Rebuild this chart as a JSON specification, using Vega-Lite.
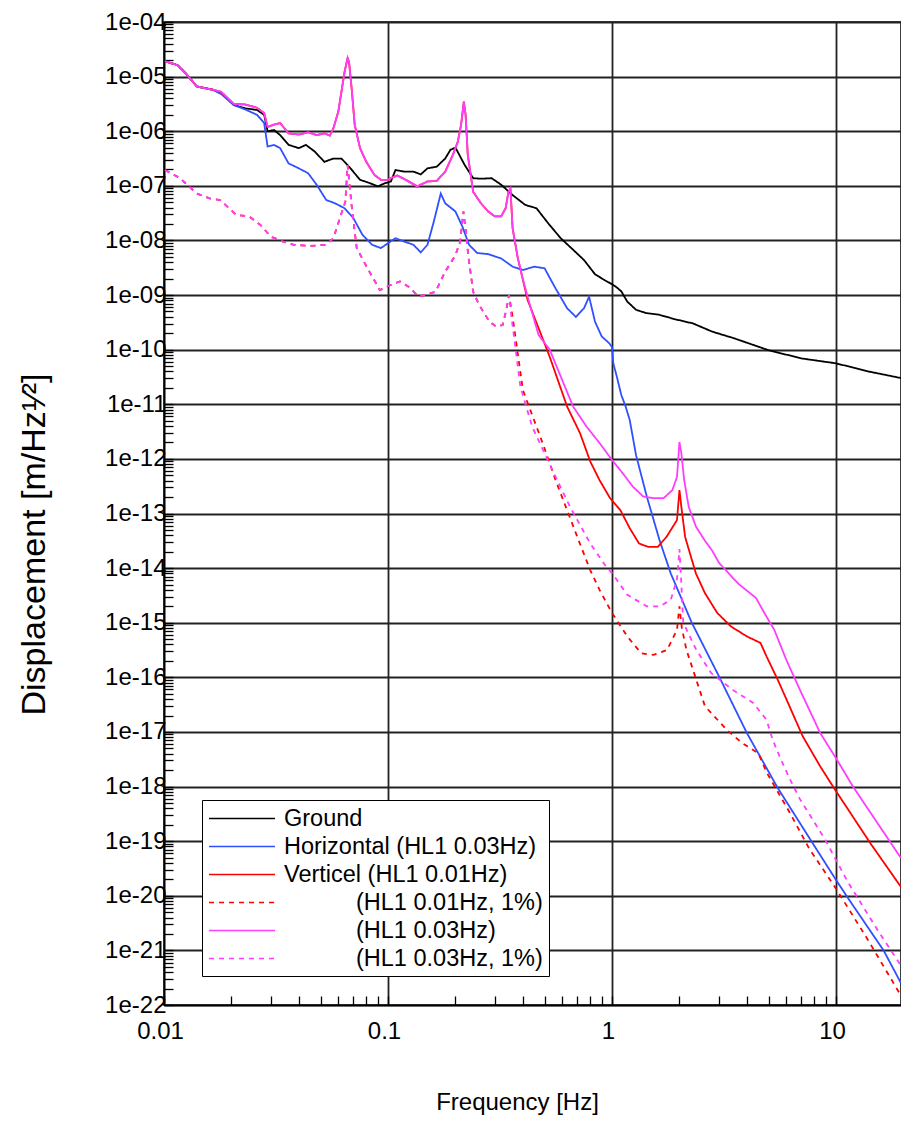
{
"$schema": "https://vega.github.io/schema/vega-lite/v6.json",
"width": 737, "height": 983,
"autosize": {"type": "none"},
"padding": {"left": 164, "top": 22, "right": 0, "bottom": 117},
"background": "white",
"config": {"font": "Liberation Sans", "view": {"stroke": "black", "strokeWidth": 1.5}},
"data": {"values": [
{"s":"G","f":0.0101,"v":1.91e-5},{"s":"G","f":0.0115,"v":1.62e-5},{"s":"G","f":0.0125,"v":1.15e-5},{"s":"G","f":0.014,"v":6.61e-6},{"s":"G","f":0.0165,"v":5.75e-6},{"s":"G","f":0.018,"v":5.01e-6},{"s":"G","f":0.0205,"v":3.02e-6},{"s":"G","f":0.023,"v":2.63e-6},{"s":"G","f":0.026,"v":2.45e-6},{"s":"G","f":0.028,"v":2.0e-6},{"s":"G","f":0.029,"v":1.0e-6},{"s":"G","f":0.031,"v":1.05e-6},{"s":"G","f":0.033,"v":8.51e-7},{"s":"G","f":0.036,"v":5.62e-7},{"s":"G","f":0.040,"v":4.90e-7},{"s":"G","f":0.043,"v":5.62e-7},{"s":"G","f":0.047,"v":4.27e-7},{"s":"G","f":0.052,"v":2.75e-7},{"s":"G","f":0.057,"v":3.16e-7},{"s":"G","f":0.062,"v":3.16e-7},{"s":"G","f":0.068,"v":2.09e-7},{"s":"G","f":0.075,"v":1.29e-7},{"s":"G","f":0.083,"v":1.12e-7},{"s":"G","f":0.09,"v":9.77e-8},{"s":"G","f":0.097,"v":1.12e-7},{"s":"G","f":0.103,"v":1.20e-7},{"s":"G","f":0.108,"v":1.95e-7},{"s":"G","f":0.118,"v":1.82e-7},{"s":"G","f":0.13,"v":1.82e-7},{"s":"G","f":0.14,"v":1.62e-7},{"s":"G","f":0.15,"v":2.09e-7},{"s":"G","f":0.165,"v":2.24e-7},{"s":"G","f":0.18,"v":3.16e-7},{"s":"G","f":0.19,"v":4.57e-7},{"s":"G","f":0.2,"v":5.01e-7},{"s":"G","f":0.22,"v":2.40e-7},{"s":"G","f":0.24,"v":1.38e-7},{"s":"G","f":0.26,"v":1.35e-7},{"s":"G","f":0.29,"v":1.38e-7},{"s":"G","f":0.32,"v":1.05e-7},{"s":"G","f":0.36,"v":6.76e-8},{"s":"G","f":0.41,"v":4.47e-8},{"s":"G","f":0.46,"v":3.89e-8},{"s":"G","f":0.52,"v":2.04e-8},{"s":"G","f":0.59,"v":1.10e-8},{"s":"G","f":0.67,"v":6.76e-9},{"s":"G","f":0.75,"v":4.37e-9},{"s":"G","f":0.84,"v":2.40e-9},{"s":"G","f":0.93,"v":1.86e-9},{"s":"G","f":1.0,"v":1.58e-9},{"s":"G","f":1.05,"v":1.38e-9},{"s":"G","f":1.1,"v":1.17e-9},{"s":"G","f":1.17,"v":7.59e-10},{"s":"G","f":1.28,"v":5.37e-10},{"s":"G","f":1.42,"v":4.68e-10},{"s":"G","f":1.62,"v":4.37e-10},{"s":"G","f":1.9,"v":3.63e-10},{"s":"G","f":2.3,"v":3.02e-10},{"s":"G","f":2.8,"v":2.14e-10},{"s":"G","f":3.5,"v":1.62e-10},{"s":"G","f":5.0,"v":9.77e-11},{"s":"G","f":7.0,"v":6.92e-11},{"s":"G","f":10,"v":5.62e-11},{"s":"G","f":14,"v":3.98e-11},{"s":"G","f":19.5,"v":3.02e-11},
{"s":"H","f":0.0101,"v":1.91e-5},{"s":"H","f":0.0115,"v":1.62e-5},{"s":"H","f":0.0125,"v":1.15e-5},{"s":"H","f":0.014,"v":6.61e-6},{"s":"H","f":0.0165,"v":5.75e-6},{"s":"H","f":0.018,"v":4.79e-6},{"s":"H","f":0.0205,"v":3.02e-6},{"s":"H","f":0.023,"v":2.51e-6},{"s":"H","f":0.026,"v":2.0e-6},{"s":"H","f":0.028,"v":1.41e-6},{"s":"H","f":0.029,"v":5.25e-7},{"s":"H","f":0.031,"v":5.62e-7},{"s":"H","f":0.033,"v":4.90e-7},{"s":"H","f":0.036,"v":2.57e-7},{"s":"H","f":0.040,"v":2.09e-7},{"s":"H","f":0.044,"v":1.70e-7},{"s":"H","f":0.048,"v":1.05e-7},{"s":"H","f":0.053,"v":5.50e-8},{"s":"H","f":0.058,"v":4.79e-8},{"s":"H","f":0.064,"v":3.89e-8},{"s":"H","f":0.07,"v":2.57e-8},{"s":"H","f":0.077,"v":1.26e-8},{"s":"H","f":0.085,"v":8.32e-9},{"s":"H","f":0.093,"v":7.24e-9},{"s":"H","f":0.1,"v":8.91e-9},{"s":"H","f":0.108,"v":1.10e-8},{"s":"H","f":0.118,"v":9.55e-9},{"s":"H","f":0.13,"v":8.32e-9},{"s":"H","f":0.14,"v":6.03e-9},{"s":"H","f":0.15,"v":8.32e-9},{"s":"H","f":0.16,"v":2.19e-8},{"s":"H","f":0.172,"v":7.24e-8},{"s":"H","f":0.18,"v":4.79e-8},{"s":"H","f":0.2,"v":3.39e-8},{"s":"H","f":0.215,"v":1.78e-8},{"s":"H","f":0.23,"v":8.32e-9},{"s":"H","f":0.25,"v":5.89e-9},{"s":"H","f":0.28,"v":5.62e-9},{"s":"H","f":0.32,"v":4.68e-9},{"s":"H","f":0.36,"v":3.31e-9},{"s":"H","f":0.40,"v":2.88e-9},{"s":"H","f":0.45,"v":3.31e-9},{"s":"H","f":0.5,"v":3.09e-9},{"s":"H","f":0.56,"v":1.32e-9},{"s":"H","f":0.63,"v":5.75e-10},{"s":"H","f":0.69,"v":3.98e-10},{"s":"H","f":0.75,"v":5.75e-10},{"s":"H","f":0.79,"v":9.33e-10},{"s":"H","f":0.84,"v":3.24e-10},{"s":"H","f":0.9,"v":1.74e-10},{"s":"H","f":0.97,"v":1.32e-10},{"s":"H","f":1.0,"v":1.12e-10},{"s":"H","f":1.013,"v":5.62e-11},{"s":"H","f":1.05,"v":3.24e-11},{"s":"H","f":1.1,"v":1.48e-11},{"s":"H","f":1.15,"v":9.12e-12},{"s":"H","f":1.2,"v":5.13e-12},{"s":"H","f":1.28,"v":1.17e-12},{"s":"H","f":1.43,"v":2.04e-13},{"s":"H","f":1.63,"v":3.24e-14},{"s":"H","f":1.83,"v":7.94e-15},{"s":"H","f":2.27,"v":1.0e-15},{"s":"H","f":3.0,"v":1.05e-16},{"s":"H","f":4.0,"v":9.55e-18},{"s":"H","f":5.5,"v":9.33e-19},{"s":"H","f":7.9,"v":8.91e-20},{"s":"H","f":10,"v":1.95e-20},{"s":"H","f":11.3,"v":9.12e-21},{"s":"H","f":16.3,"v":1.0e-21},{"s":"H","f":19.5,"v":2.51e-22},
{"s":"V1","f":0.0101,"v":1.91e-5},{"s":"V1","f":0.0115,"v":1.62e-5},{"s":"V1","f":0.0125,"v":1.15e-5},{"s":"V1","f":0.014,"v":6.61e-6},{"s":"V1","f":0.0165,"v":5.75e-6},{"s":"V1","f":0.018,"v":5.25e-6},{"s":"V1","f":0.0205,"v":3.16e-6},{"s":"V1","f":0.023,"v":3.09e-6},{"s":"V1","f":0.026,"v":2.69e-6},{"s":"V1","f":0.028,"v":2.14e-6},{"s":"V1","f":0.029,"v":1.20e-6},{"s":"V1","f":0.031,"v":1.32e-6},{"s":"V1","f":0.033,"v":1.41e-6},{"s":"V1","f":0.036,"v":9.12e-7},{"s":"V1","f":0.040,"v":8.71e-7},{"s":"V1","f":0.044,"v":9.55e-7},{"s":"V1","f":0.048,"v":8.51e-7},{"s":"V1","f":0.052,"v":9.12e-7},{"s":"V1","f":0.055,"v":8.32e-7},{"s":"V1","f":0.057,"v":1.12e-6},{"s":"V1","f":0.06,"v":2.29e-6},{"s":"V1","f":0.062,"v":5.37e-6},{"s":"V1","f":0.064,"v":1.23e-5},{"s":"V1","f":0.066,"v":2.19e-5},{"s":"V1","f":0.067,"v":1.86e-5},{"s":"V1","f":0.069,"v":5.37e-6},{"s":"V1","f":0.071,"v":1.32e-6},{"s":"V1","f":0.075,"v":4.90e-7},{"s":"V1","f":0.08,"v":2.75e-7},{"s":"V1","f":0.087,"v":1.58e-7},{"s":"V1","f":0.093,"v":1.29e-7},{"s":"V1","f":0.1,"v":1.29e-7},{"s":"V1","f":0.103,"v":1.38e-7},{"s":"V1","f":0.11,"v":1.55e-7},{"s":"V1","f":0.12,"v":1.29e-7},{"s":"V1","f":0.135,"v":9.77e-8},{"s":"V1","f":0.15,"v":1.20e-7},{"s":"V1","f":0.165,"v":1.23e-7},{"s":"V1","f":0.18,"v":1.82e-7},{"s":"V1","f":0.195,"v":3.72e-7},{"s":"V1","f":0.205,"v":6.46e-7},{"s":"V1","f":0.212,"v":1.32e-6},{"s":"V1","f":0.218,"v":3.47e-6},{"s":"V1","f":0.222,"v":2.0e-6},{"s":"V1","f":0.227,"v":3.72e-7},{"s":"V1","f":0.24,"v":7.76e-8},{"s":"V1","f":0.26,"v":4.79e-8},{"s":"V1","f":0.28,"v":3.39e-8},{"s":"V1","f":0.3,"v":2.75e-8},{"s":"V1","f":0.32,"v":2.75e-8},{"s":"V1","f":0.335,"v":3.89e-8},{"s":"V1","f":0.345,"v":7.76e-8},{"s":"V1","f":0.352,"v":8.91e-8},{"s":"V1","f":0.36,"v":1.66e-8},{"s":"V1","f":0.38,"v":4.68e-9},{"s":"V1","f":0.40,"v":1.91e-9},{"s":"V1","f":0.42,"v":8.13e-10},{"s":"V1","f":0.527,"v":7.41e-11},{"s":"V1","f":0.63,"v":9.12e-12},{"s":"V1","f":0.72,"v":2.95e-12},{"s":"V1","f":0.80,"v":8.91e-13},{"s":"V1","f":0.88,"v":4.07e-13},{"s":"V1","f":0.98,"v":1.91e-13},{"s":"V1","f":1.09,"v":1.15e-13},{"s":"V1","f":1.2,"v":5.37e-14},{"s":"V1","f":1.32,"v":2.82e-14},{"s":"V1","f":1.45,"v":2.45e-14},{"s":"V1","f":1.6,"v":2.45e-14},{"s":"V1","f":1.75,"v":3.72e-14},{"s":"V1","f":1.95,"v":7.59e-14},{"s":"V1","f":2.0,"v":2.69e-13},{"s":"V1","f":2.04,"v":1.32e-13},{"s":"V1","f":2.12,"v":3.72e-14},{"s":"V1","f":2.25,"v":1.62e-14},{"s":"V1","f":2.37,"v":7.94e-15},{"s":"V1","f":2.6,"v":3.47e-15},{"s":"V1","f":2.95,"v":1.51e-15},{"s":"V1","f":3.4,"v":8.51e-16},{"s":"V1","f":4.0,"v":5.62e-16},{"s":"V1","f":4.6,"v":4.27e-16},{"s":"V1","f":4.9,"v":2.40e-16},{"s":"V1","f":5.5,"v":8.91e-17},{"s":"V1","f":6.2,"v":2.95e-17},{"s":"V1","f":7.1,"v":8.32e-18},{"s":"V1","f":8.5,"v":2.34e-18},{"s":"V1","f":9.8,"v":9.33e-19},{"s":"V1","f":14.3,"v":8.91e-20},{"s":"V1","f":19.5,"v":1.45e-20},
{"s":"V1p","f":0.0101,"v":1.95e-7},{"s":"V1p","f":0.0118,"v":1.38e-7},{"s":"V1p","f":0.014,"v":7.24e-8},{"s":"V1p","f":0.016,"v":5.89e-8},{"s":"V1p","f":0.0178,"v":5.50e-8},{"s":"V1p","f":0.021,"v":2.95e-8},{"s":"V1p","f":0.024,"v":2.75e-8},{"s":"V1p","f":0.027,"v":1.91e-8},{"s":"V1p","f":0.030,"v":1.17e-8},{"s":"V1p","f":0.034,"v":9.55e-9},{"s":"V1p","f":0.038,"v":8.32e-9},{"s":"V1p","f":0.045,"v":7.94e-9},{"s":"V1p","f":0.053,"v":8.32e-9},{"s":"V1p","f":0.057,"v":1.10e-8},{"s":"V1p","f":0.061,"v":2.57e-8},{"s":"V1p","f":0.0645,"v":5.13e-8},{"s":"V1p","f":0.066,"v":2.40e-7},{"s":"V1p","f":0.069,"v":3.89e-8},{"s":"V1p","f":0.0725,"v":7.24e-9},{"s":"V1p","f":0.081,"v":3.09e-9},{"s":"V1p","f":0.092,"v":1.23e-9},{"s":"V1p","f":0.102,"v":1.51e-9},{"s":"V1p","f":0.113,"v":1.78e-9},{"s":"V1p","f":0.124,"v":1.41e-9},{"s":"V1p","f":0.137,"v":9.33e-10},{"s":"V1p","f":0.163,"v":1.15e-9},{"s":"V1p","f":0.18,"v":2.69e-9},{"s":"V1p","f":0.2,"v":5.37e-9},{"s":"V1p","f":0.21,"v":9.55e-9},{"s":"V1p","f":0.217,"v":3.39e-8},{"s":"V1p","f":0.222,"v":1.66e-8},{"s":"V1p","f":0.228,"v":5.37e-9},{"s":"V1p","f":0.24,"v":1.15e-9},{"s":"V1p","f":0.255,"v":6.61e-10},{"s":"V1p","f":0.284,"v":3.24e-10},{"s":"V1p","f":0.305,"v":2.63e-10},{"s":"V1p","f":0.325,"v":2.82e-10},{"s":"V1p","f":0.336,"v":5.01e-10},{"s":"V1p","f":0.347,"v":1.0e-9},{"s":"V1p","f":0.36,"v":3.98e-10},{"s":"V1p","f":0.40,"v":1.82e-11},{"s":"V1p","f":0.49,"v":1.95e-12},{"s":"V1p","f":0.56,"v":4.07e-13},{"s":"V1p","f":0.7,"v":3.72e-14},{"s":"V1p","f":0.8,"v":9.12e-15},{"s":"V1p","f":0.88,"v":3.98e-15},{"s":"V1p","f":1.0,"v":1.51e-15},{"s":"V1p","f":1.17,"v":5.62e-16},{"s":"V1p","f":1.35,"v":2.75e-16},{"s":"V1p","f":1.53,"v":2.57e-16},{"s":"V1p","f":1.76,"v":3.16e-16},{"s":"V1p","f":1.95,"v":7.41e-16},{"s":"V1p","f":2.0,"v":2.0e-15},{"s":"V1p","f":2.05,"v":7.94e-16},{"s":"V1p","f":2.15,"v":3.16e-16},{"s":"V1p","f":2.38,"v":8.91e-17},{"s":"V1p","f":2.6,"v":2.95e-17},{"s":"V1p","f":3.25,"v":1.10e-17},{"s":"V1p","f":3.8,"v":6.31e-18},{"s":"V1p","f":4.5,"v":4.07e-18},{"s":"V1p","f":4.9,"v":1.82e-18},{"s":"V1p","f":6.2,"v":3.39e-19},{"s":"V1p","f":7.6,"v":7.24e-20},{"s":"V1p","f":10,"v":1.35e-20},{"s":"V1p","f":13.8,"v":1.62e-21},{"s":"V1p","f":19.5,"v":1.48e-22},
{"s":"V3","f":0.0101,"v":1.91e-5},{"s":"V3","f":0.0115,"v":1.62e-5},{"s":"V3","f":0.0125,"v":1.15e-5},{"s":"V3","f":0.014,"v":6.61e-6},{"s":"V3","f":0.0165,"v":5.75e-6},{"s":"V3","f":0.018,"v":5.25e-6},{"s":"V3","f":0.0205,"v":3.16e-6},{"s":"V3","f":0.023,"v":3.09e-6},{"s":"V3","f":0.026,"v":2.69e-6},{"s":"V3","f":0.028,"v":2.14e-6},{"s":"V3","f":0.029,"v":1.20e-6},{"s":"V3","f":0.031,"v":1.32e-6},{"s":"V3","f":0.033,"v":1.41e-6},{"s":"V3","f":0.036,"v":9.12e-7},{"s":"V3","f":0.040,"v":8.71e-7},{"s":"V3","f":0.044,"v":9.55e-7},{"s":"V3","f":0.048,"v":8.51e-7},{"s":"V3","f":0.052,"v":9.12e-7},{"s":"V3","f":0.055,"v":8.32e-7},{"s":"V3","f":0.057,"v":1.12e-6},{"s":"V3","f":0.06,"v":2.29e-6},{"s":"V3","f":0.062,"v":5.37e-6},{"s":"V3","f":0.064,"v":1.23e-5},{"s":"V3","f":0.066,"v":2.19e-5},{"s":"V3","f":0.067,"v":1.86e-5},{"s":"V3","f":0.069,"v":5.37e-6},{"s":"V3","f":0.071,"v":1.32e-6},{"s":"V3","f":0.075,"v":4.90e-7},{"s":"V3","f":0.08,"v":2.75e-7},{"s":"V3","f":0.087,"v":1.58e-7},{"s":"V3","f":0.093,"v":1.29e-7},{"s":"V3","f":0.1,"v":1.29e-7},{"s":"V3","f":0.103,"v":1.38e-7},{"s":"V3","f":0.11,"v":1.55e-7},{"s":"V3","f":0.12,"v":1.29e-7},{"s":"V3","f":0.135,"v":9.77e-8},{"s":"V3","f":0.15,"v":1.20e-7},{"s":"V3","f":0.165,"v":1.23e-7},{"s":"V3","f":0.18,"v":1.82e-7},{"s":"V3","f":0.195,"v":3.72e-7},{"s":"V3","f":0.205,"v":6.46e-7},{"s":"V3","f":0.212,"v":1.32e-6},{"s":"V3","f":0.218,"v":3.47e-6},{"s":"V3","f":0.222,"v":2.0e-6},{"s":"V3","f":0.227,"v":3.72e-7},{"s":"V3","f":0.24,"v":7.76e-8},{"s":"V3","f":0.26,"v":4.79e-8},{"s":"V3","f":0.28,"v":3.39e-8},{"s":"V3","f":0.3,"v":2.75e-8},{"s":"V3","f":0.32,"v":2.75e-8},{"s":"V3","f":0.335,"v":3.89e-8},{"s":"V3","f":0.345,"v":7.76e-8},{"s":"V3","f":0.352,"v":8.91e-8},{"s":"V3","f":0.36,"v":1.66e-8},{"s":"V3","f":0.38,"v":4.68e-9},{"s":"V3","f":0.40,"v":1.95e-9},{"s":"V3","f":0.43,"v":6.61e-10},{"s":"V3","f":0.47,"v":1.86e-10},{"s":"V3","f":0.527,"v":1.0e-10},{"s":"V3","f":0.67,"v":9.12e-12},{"s":"V3","f":0.77,"v":3.89e-12},{"s":"V3","f":0.88,"v":1.95e-12},{"s":"V3","f":1.0,"v":9.55e-13},{"s":"V3","f":1.12,"v":5.37e-13},{"s":"V3","f":1.24,"v":3.09e-13},{"s":"V3","f":1.38,"v":2.04e-13},{"s":"V3","f":1.53,"v":1.91e-13},{"s":"V3","f":1.70,"v":1.91e-13},{"s":"V3","f":1.86,"v":2.69e-13},{"s":"V3","f":1.95,"v":4.68e-13},{"s":"V3","f":2.0,"v":2.04e-12},{"s":"V3","f":2.04,"v":1.26e-12},{"s":"V3","f":2.1,"v":4.07e-13},{"s":"V3","f":2.2,"v":1.32e-13},{"s":"V3","f":2.37,"v":5.75e-14},{"s":"V3","f":2.6,"v":3.16e-14},{"s":"V3","f":2.8,"v":2.09e-14},{"s":"V3","f":3.0,"v":1.26e-14},{"s":"V3","f":3.5,"v":6.31e-15},{"s":"V3","f":3.7,"v":5.01e-15},{"s":"V3","f":4.4,"v":2.82e-15},{"s":"V3","f":4.8,"v":1.48e-15},{"s":"V3","f":5.3,"v":7.41e-16},{"s":"V3","f":6.0,"v":2.09e-16},{"s":"V3","f":6.9,"v":5.89e-17},{"s":"V3","f":8.5,"v":9.55e-18},{"s":"V3","f":10.1,"v":3.09e-18},{"s":"V3","f":11.9,"v":1.0e-18},{"s":"V3","f":19.5,"v":4.90e-20},
{"s":"V3p","f":0.0101,"v":1.95e-7},{"s":"V3p","f":0.0118,"v":1.38e-7},{"s":"V3p","f":0.014,"v":7.24e-8},{"s":"V3p","f":0.016,"v":5.89e-8},{"s":"V3p","f":0.0178,"v":5.50e-8},{"s":"V3p","f":0.021,"v":2.95e-8},{"s":"V3p","f":0.024,"v":2.75e-8},{"s":"V3p","f":0.027,"v":1.91e-8},{"s":"V3p","f":0.030,"v":1.17e-8},{"s":"V3p","f":0.034,"v":9.55e-9},{"s":"V3p","f":0.038,"v":8.32e-9},{"s":"V3p","f":0.045,"v":7.94e-9},{"s":"V3p","f":0.053,"v":8.32e-9},{"s":"V3p","f":0.057,"v":1.10e-8},{"s":"V3p","f":0.061,"v":2.57e-8},{"s":"V3p","f":0.0645,"v":5.13e-8},{"s":"V3p","f":0.066,"v":2.40e-7},{"s":"V3p","f":0.069,"v":3.89e-8},{"s":"V3p","f":0.0725,"v":7.24e-9},{"s":"V3p","f":0.081,"v":3.09e-9},{"s":"V3p","f":0.092,"v":1.23e-9},{"s":"V3p","f":0.102,"v":1.51e-9},{"s":"V3p","f":0.113,"v":1.78e-9},{"s":"V3p","f":0.124,"v":1.41e-9},{"s":"V3p","f":0.137,"v":9.33e-10},{"s":"V3p","f":0.163,"v":1.15e-9},{"s":"V3p","f":0.18,"v":2.69e-9},{"s":"V3p","f":0.2,"v":5.37e-9},{"s":"V3p","f":0.21,"v":9.55e-9},{"s":"V3p","f":0.217,"v":3.39e-8},{"s":"V3p","f":0.222,"v":1.66e-8},{"s":"V3p","f":0.228,"v":5.37e-9},{"s":"V3p","f":0.24,"v":1.15e-9},{"s":"V3p","f":0.255,"v":6.61e-10},{"s":"V3p","f":0.284,"v":3.24e-10},{"s":"V3p","f":0.305,"v":2.63e-10},{"s":"V3p","f":0.325,"v":2.82e-10},{"s":"V3p","f":0.336,"v":5.01e-10},{"s":"V3p","f":0.347,"v":1.0e-9},{"s":"V3p","f":0.355,"v":4.27e-10},{"s":"V3p","f":0.39,"v":2.09e-11},{"s":"V3p","f":0.44,"v":3.89e-12},{"s":"V3p","f":0.55,"v":5.50e-13},{"s":"V3p","f":0.65,"v":1.32e-13},{"s":"V3p","f":0.8,"v":2.82e-14},{"s":"V3p","f":0.94,"v":1.07e-14},{"s":"V3p","f":1.0,"v":8.13e-15},{"s":"V3p","f":1.17,"v":3.24e-15},{"s":"V3p","f":1.43,"v":2.0e-15},{"s":"V3p","f":1.64,"v":2.0e-15},{"s":"V3p","f":1.83,"v":2.63e-15},{"s":"V3p","f":1.95,"v":6.31e-15},{"s":"V3p","f":2.0,"v":2.24e-14},{"s":"V3p","f":2.04,"v":5.01e-15},{"s":"V3p","f":2.08,"v":1.0e-15},{"s":"V3p","f":2.38,"v":3.16e-16},{"s":"V3p","f":2.77,"v":1.20e-16},{"s":"V3p","f":3.46,"v":5.89e-17},{"s":"V3p","f":4.27,"v":3.39e-17},{"s":"V3p","f":4.9,"v":1.66e-17},{"s":"V3p","f":5.2,"v":7.41e-18},{"s":"V3p","f":5.6,"v":3.55e-18},{"s":"V3p","f":6.2,"v":1.41e-18},{"s":"V3p","f":6.9,"v":5.89e-19},{"s":"V3p","f":8.9,"v":1.10e-19},{"s":"V3p","f":11.3,"v":1.78e-20},{"s":"V3p","f":15.4,"v":2.29e-21},{"s":"V3p","f":19.5,"v":5.25e-22}
]},
"mark": {"type": "line", "strokeWidth": 1.8, "clip": true},
"encoding": {
"x": {"field": "f", "type": "quantitative",
 "scale": {"type": "log", "domain": [0.01, 19.5], "nice": false},
 "axis": {"title": "Frequency [Hz]",
  "values": [0.01,0.02,0.03,0.04,0.05,0.06,0.07,0.08,0.09,0.1,0.2,0.3,0.4,0.5,0.6,0.7,0.8,0.9,1,2,3,4,5,6,7,8,9,10],
  "labelExpr": "abs(log(datum.value)/LN10 - round(log(datum.value)/LN10)) < 0.001 ? '' + datum.value : ''",
  "tickSize": -9, "tickColor": "black", "tickWidth": 1.3,
  "domainColor": "black", "domainWidth": 1.5,
  "grid": true, "gridColor": "#222", "gridWidth": 1.8,
  "gridOpacity": {"condition": {"test": "abs(log(datum.value)/LN10 - round(log(datum.value)/LN10)) < 0.001", "value": 1}, "value": 0},
  "labelFontSize": 24, "labelColor": "black", "labelPadding": 23, "labelOffset": -4,
  "labelOverlap": false, "labelFlush": false, "labelBound": false,
  "titleFontSize": 24, "titleFontWeight": "normal", "titleColor": "black",
  "titleX": 353, "titleY": 104, "titleAnchor": "start", "titleAlign": "center", "titleBaseline": "alphabetic"}},
"y": {"field": "v", "type": "quantitative",
 "scale": {"type": "log", "domain": [1e-22, 1e-4], "nice": false},
 "axis": {"title": "Displacement [m/Hz¹⁄²]",
  "values": [1e-22,2e-22,3e-22,4e-22,5e-22,6e-22,7e-22,8e-22,9e-22,1e-21,2e-21,3e-21,4e-21,5e-21,6e-21,7e-21,8e-21,9e-21,1e-20,2e-20,3e-20,4e-20,5e-20,6e-20,7e-20,8e-20,9e-20,1e-19,2e-19,3e-19,4e-19,5e-19,6e-19,7e-19,8e-19,9e-19,1e-18,2e-18,3e-18,4e-18,5e-18,6e-18,7e-18,8e-18,9e-18,1e-17,2e-17,3e-17,4e-17,5e-17,6e-17,7e-17,8e-17,9e-17,1e-16,2e-16,3e-16,4e-16,5e-16,6e-16,7e-16,8e-16,9e-16,1e-15,2e-15,3e-15,4e-15,5e-15,6e-15,7e-15,8e-15,9e-15,1e-14,2e-14,3e-14,4e-14,5e-14,6e-14,7e-14,8e-14,9e-14,1e-13,2e-13,3e-13,4e-13,5e-13,6e-13,7e-13,8e-13,9e-13,1e-12,2e-12,3e-12,4e-12,5e-12,6e-12,7e-12,8e-12,9e-12,1e-11,2e-11,3e-11,4e-11,5e-11,6e-11,7e-11,8e-11,9e-11,1e-10,2e-10,3e-10,4e-10,5e-10,6e-10,7e-10,8e-10,9e-10,1e-9,2e-9,3e-9,4e-9,5e-9,6e-9,7e-9,8e-9,9e-9,1e-8,2e-8,3e-8,4e-8,5e-8,6e-8,7e-8,8e-8,9e-8,1e-7,2e-7,3e-7,4e-7,5e-7,6e-7,7e-7,8e-7,9e-7,1e-6,2e-6,3e-6,4e-6,5e-6,6e-6,7e-6,8e-6,9e-6,1e-5,2e-5,3e-5,4e-5,5e-5,6e-5,7e-5,8e-5,9e-5,1e-4],
  "labelExpr": "abs(log(datum.value)/LN10 - round(log(datum.value)/LN10)) < 0.001 ? '1e-' + (round(-log(datum.value)/LN10) < 10 ? '0' : '') + round(-log(datum.value)/LN10) : ''",
  "tickSize": -9, "tickColor": "black", "tickWidth": 1.3,
  "domainColor": "black", "domainWidth": 1.5,
  "grid": true, "gridColor": "#222", "gridWidth": 1.8,
  "gridOpacity": {"condition": {"test": "abs(log(datum.value)/LN10 - round(log(datum.value)/LN10)) < 0.001", "value": 1}, "value": 0},
  "labelFontSize": 24, "labelColor": "black", "labelPadding": 7,
  "labelOverlap": false, "labelFlush": false, "labelBound": false,
  "titleFontSize": 34, "titleFontWeight": "normal", "titleColor": "black",
  "titleX": -120, "titleY": 522, "titleAngle": 270, "titleAlign": "center", "titleBaseline": "alphabetic"}},
"color": {"field": "s", "type": "nominal",
 "scale": {"domain": ["G","H","V1","V1p","V3","V3p"], "range": ["#000000","#3050ff","#ff0000","#ff0000","#ff3dff","#ff3dff"]},
 "legend": {"title": null, "orient": "none", "legendX": 38, "legendY": 778,
  "symbolType": "M-1,0H4.74", "symbolSize": 529, "symbolStrokeWidth": 1.6,
  "labelFontSize": 23.5, "labelFont": "Liberation Sans", "labelColor": "black", "labelOffset": 51, "labelLimit": 0,
  "rowPadding": 4, "padding": 6, "strokeColor": "black", "fillColor": "white",
  "labelExpr": "datum.label == 'G' ? 'Ground' : datum.label == 'H' ? 'Horizontal (HL1 0.03Hz)' : datum.label == 'V1' ? 'Verticel (HL1 0.01Hz)' : datum.label == 'V1p' ? '\u2800\u2800\u2800\u2800(HL1 0.01Hz, 1%)' : datum.label == 'V3' ? '\u2800\u2800\u2800\u2800(HL1 0.03Hz)' : '\u2800\u2800\u2800\u2800(HL1 0.03Hz, 1%)'"}},
"strokeDash": {"field": "s", "type": "nominal",
 "scale": {"domain": ["G","H","V1","V1p","V3","V3p"], "range": [[1,0],[1,0],[1,0],[5,5],[1,0],[5,5]]},
 "legend": {"title": null, "orient": "none", "legendX": 38, "legendY": 778,
  "symbolType": "M-1,0H4.74", "symbolSize": 529, "symbolStrokeWidth": 1.6,
  "labelFontSize": 23.5, "labelFont": "Liberation Sans", "labelColor": "black", "labelOffset": 51, "labelLimit": 0,
  "rowPadding": 4, "padding": 6, "strokeColor": "black", "fillColor": "white",
  "labelExpr": "datum.label == 'G' ? 'Ground' : datum.label == 'H' ? 'Horizontal (HL1 0.03Hz)' : datum.label == 'V1' ? 'Verticel (HL1 0.01Hz)' : datum.label == 'V1p' ? '\u2800\u2800\u2800\u2800(HL1 0.01Hz, 1%)' : datum.label == 'V3' ? '\u2800\u2800\u2800\u2800(HL1 0.03Hz)' : '\u2800\u2800\u2800\u2800(HL1 0.03Hz, 1%)'"}}
}
}
